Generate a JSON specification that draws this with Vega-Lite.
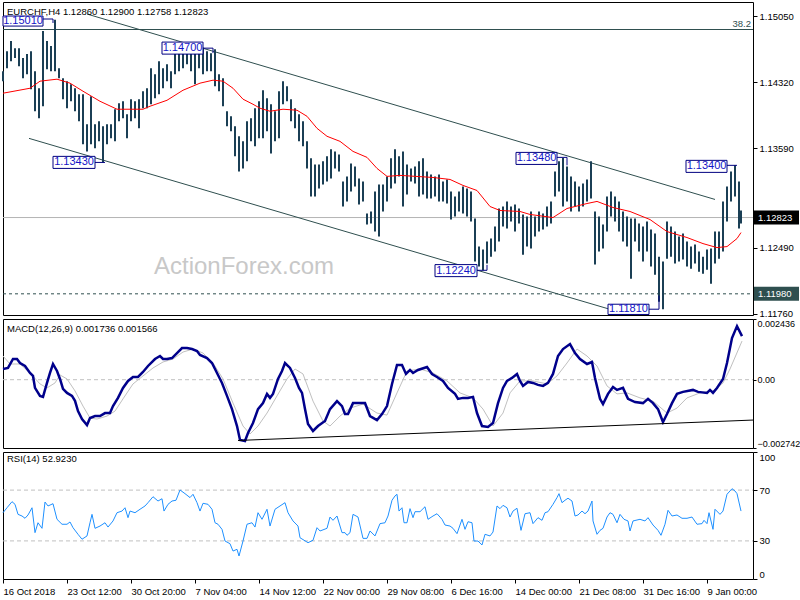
{
  "$schema": "https://vega.github.io/schema/vega-lite/v6.json",
  "padding": {"left": -3, "top": 1, "right": 0, "bottom": 0},
  "background": "white",
  "spacing": 4,
  "bounds": "flush",
  "config": {
    "view": {"stroke": "black", "strokeWidth": 1},
    "axis": {"labelFont": "Liberation Sans", "labelFontSize": 9.5, "labelColor": "black", "tickColor": "black", "domain": false, "grid": false},
    "text": {"font": "Liberation Sans"}
  },
  "datasets": {
    "bars": [
      {"i":0,"lo":1.14330,"hi":1.14441},{"i":2,"lo":1.14474,"hi":1.14662},{"i":4,"lo":1.14551,"hi":1.14773},{"i":6,"lo":1.14585,"hi":1.14695},
      {"i":8,"lo":1.14496,"hi":1.14695},{"i":10,"lo":1.14363,"hi":1.14585},{"i":12,"lo":1.14407,"hi":1.14629},{"i":14,"lo":1.14241,"hi":1.14662},
      {"i":16,"lo":1.13997,"hi":1.14441},{"i":18,"lo":1.13920,"hi":1.14252},{"i":20,"lo":1.14053,"hi":1.14884},{"i":22,"lo":1.14463,"hi":1.14773},
      {"i":24,"lo":1.14441,"hi":1.14718},{"i":26,"lo":1.14441,"hi":1.15010},{"i":28,"lo":1.14363,"hi":1.14474},{"i":30,"lo":1.14130,"hi":1.14363},
      {"i":32,"lo":1.14031,"hi":1.14330},{"i":34,"lo":1.14108,"hi":1.14297},{"i":36,"lo":1.13997,"hi":1.14252},{"i":38,"lo":1.13887,"hi":1.14186},
      {"i":40,"lo":1.13632,"hi":1.14186},{"i":42,"lo":1.13554,"hi":1.13853},{"i":44,"lo":1.13632,"hi":1.14164},{"i":46,"lo":1.13588,"hi":1.13853},
      {"i":48,"lo":1.13665,"hi":1.13887},{"i":50,"lo":1.13430,"hi":1.13831},{"i":52,"lo":1.13632,"hi":1.13853},{"i":54,"lo":1.13698,"hi":1.13853},
      {"i":56,"lo":1.13665,"hi":1.14020},{"i":58,"lo":1.13887,"hi":1.14086},{"i":60,"lo":1.13920,"hi":1.14108},{"i":62,"lo":1.13698,"hi":1.13964},
      {"i":64,"lo":1.13887,"hi":1.14130},{"i":66,"lo":1.13920,"hi":1.14108},{"i":68,"lo":1.13809,"hi":1.14130},{"i":70,"lo":1.14031,"hi":1.14219},
      {"i":72,"lo":1.14031,"hi":1.14252},{"i":74,"lo":1.14075,"hi":1.14474},{"i":76,"lo":1.14141,"hi":1.14407},{"i":78,"lo":1.14186,"hi":1.14551},
      {"i":80,"lo":1.14252,"hi":1.14474},{"i":82,"lo":1.14330,"hi":1.14518},{"i":84,"lo":1.14252,"hi":1.14441},{"i":86,"lo":1.14407,"hi":1.14740},
      {"i":88,"lo":1.14441,"hi":1.14751},{"i":90,"lo":1.14474,"hi":1.14740},{"i":92,"lo":1.14518,"hi":1.14751},{"i":94,"lo":1.14441,"hi":1.14695},
      {"i":96,"lo":1.14297,"hi":1.14740},{"i":98,"lo":1.14474,"hi":1.14751},{"i":100,"lo":1.14407,"hi":1.14700},{"i":102,"lo":1.14441,"hi":1.14662},
      {"i":104,"lo":1.14441,"hi":1.14640},{"i":106,"lo":1.14274,"hi":1.14684},{"i":108,"lo":1.14219,"hi":1.14407},{"i":110,"lo":1.14053,"hi":1.14363},
      {"i":112,"lo":1.13831,"hi":1.13997},{"i":114,"lo":1.13776,"hi":1.13942},{"i":116,"lo":1.13499,"hi":1.13831},{"i":118,"lo":1.13333,"hi":1.13721},
      {"i":120,"lo":1.13366,"hi":1.13665},{"i":122,"lo":1.13444,"hi":1.13887},{"i":124,"lo":1.13665,"hi":1.13920},{"i":126,"lo":1.13610,"hi":1.14031},
      {"i":128,"lo":1.13698,"hi":1.14108},{"i":130,"lo":1.13698,"hi":1.14230},{"i":132,"lo":1.13776,"hi":1.14141},{"i":134,"lo":1.13532,"hi":1.14075},
      {"i":136,"lo":1.13665,"hi":1.13997},{"i":138,"lo":1.13698,"hi":1.14219},{"i":140,"lo":1.14075,"hi":1.14330},{"i":142,"lo":1.14108,"hi":1.14274},
      {"i":144,"lo":1.13887,"hi":1.14130},{"i":146,"lo":1.13809,"hi":1.14031},{"i":148,"lo":1.13665,"hi":1.13964},{"i":150,"lo":1.13610,"hi":1.13887},
      {"i":152,"lo":1.13366,"hi":1.13665},{"i":154,"lo":1.13056,"hi":1.13477},{"i":156,"lo":1.13056,"hi":1.13410},{"i":158,"lo":1.13144,"hi":1.13410},
      {"i":160,"lo":1.13189,"hi":1.13444},{"i":162,"lo":1.13222,"hi":1.13499},{"i":164,"lo":1.13255,"hi":1.13577},{"i":166,"lo":1.13366,"hi":1.13554},
      {"i":168,"lo":1.13333,"hi":1.13521},{"i":170,"lo":1.12945,"hi":1.13222},{"i":172,"lo":1.13000,"hi":1.13277},{"i":174,"lo":1.13111,"hi":1.13421},
      {"i":176,"lo":1.13167,"hi":1.13388},{"i":178,"lo":1.12967,"hi":1.13255},{"i":180,"lo":1.13000,"hi":1.13222},{"i":182,"lo":1.12746,"hi":1.12868},
      {"i":184,"lo":1.12757,"hi":1.12890},{"i":186,"lo":1.12668,"hi":1.13111},{"i":188,"lo":1.12613,"hi":1.13189},{"i":190,"lo":1.12890,"hi":1.13189},
      {"i":192,"lo":1.13000,"hi":1.13277},{"i":194,"lo":1.13144,"hi":1.13477},{"i":196,"lo":1.13200,"hi":1.13577},{"i":198,"lo":1.13277,"hi":1.13499},
      {"i":200,"lo":1.12945,"hi":1.13554},{"i":202,"lo":1.13078,"hi":1.13410},{"i":204,"lo":1.13222,"hi":1.13366},{"i":206,"lo":1.13200,"hi":1.13388},
      {"i":208,"lo":1.13056,"hi":1.13444},{"i":210,"lo":1.13078,"hi":1.13477},{"i":212,"lo":1.13034,"hi":1.13333},{"i":214,"lo":1.13034,"hi":1.13300},
      {"i":216,"lo":1.13056,"hi":1.13277},{"i":218,"lo":1.13000,"hi":1.13300},{"i":220,"lo":1.13000,"hi":1.13222},{"i":222,"lo":1.12978,"hi":1.13244},
      {"i":224,"lo":1.12801,"hi":1.13111},{"i":226,"lo":1.12834,"hi":1.13056},{"i":228,"lo":1.12890,"hi":1.13111},{"i":230,"lo":1.12868,"hi":1.13167},
      {"i":232,"lo":1.12834,"hi":1.13144},{"i":234,"lo":1.12779,"hi":1.13111},{"i":236,"lo":1.12336,"hi":1.12812},{"i":238,"lo":1.12281,"hi":1.12502},
      {"i":240,"lo":1.12240,"hi":1.12469},{"i":242,"lo":1.12314,"hi":1.12557},{"i":244,"lo":1.12391,"hi":1.12591},{"i":246,"lo":1.12447,"hi":1.12724},
      {"i":248,"lo":1.12557,"hi":1.12923},{"i":250,"lo":1.12724,"hi":1.12945},{"i":252,"lo":1.12701,"hi":1.13000},{"i":254,"lo":1.12779,"hi":1.12945},
      {"i":256,"lo":1.12668,"hi":1.12967},{"i":258,"lo":1.12757,"hi":1.12923},{"i":260,"lo":1.12413,"hi":1.12856},{"i":262,"lo":1.12502,"hi":1.12834},
      {"i":264,"lo":1.12480,"hi":1.12890},{"i":266,"lo":1.12613,"hi":1.12834},{"i":268,"lo":1.12668,"hi":1.12890},{"i":270,"lo":1.12690,"hi":1.12868},
      {"i":272,"lo":1.12724,"hi":1.12945},{"i":274,"lo":1.12757,"hi":1.13000},{"i":276,"lo":1.13056,"hi":1.13333},{"i":278,"lo":1.13111,"hi":1.13444},
      {"i":280,"lo":1.12945,"hi":1.13480},{"i":282,"lo":1.13000,"hi":1.13388},{"i":284,"lo":1.12890,"hi":1.13277},{"i":286,"lo":1.12945,"hi":1.13222},
      {"i":288,"lo":1.12890,"hi":1.13167},{"i":290,"lo":1.12945,"hi":1.13200},{"i":292,"lo":1.13000,"hi":1.13244},{"i":294,"lo":1.13034,"hi":1.13444},
      {"i":296,"lo":1.12303,"hi":1.12890},{"i":298,"lo":1.12447,"hi":1.12834},{"i":300,"lo":1.12480,"hi":1.12746},{"i":302,"lo":1.12668,"hi":1.13056},
      {"i":304,"lo":1.12834,"hi":1.13111},{"i":306,"lo":1.12779,"hi":1.13056},{"i":308,"lo":1.12668,"hi":1.13000},{"i":310,"lo":1.12557,"hi":1.12890},
      {"i":312,"lo":1.12502,"hi":1.12834},{"i":314,"lo":1.12147,"hi":1.12812},{"i":316,"lo":1.12557,"hi":1.12812},{"i":318,"lo":1.12447,"hi":1.12757},
      {"i":320,"lo":1.12336,"hi":1.12724},{"i":322,"lo":1.12447,"hi":1.12779},{"i":324,"lo":1.12281,"hi":1.12690},{"i":326,"lo":1.12192,"hi":1.12646},
      {"i":328,"lo":1.11893,"hi":1.12391},{"i":330,"lo":1.11810,"hi":1.12336},{"i":332,"lo":1.12369,"hi":1.12779},{"i":334,"lo":1.12391,"hi":1.12724},
      {"i":336,"lo":1.12314,"hi":1.12668},{"i":338,"lo":1.12336,"hi":1.12613},{"i":340,"lo":1.12358,"hi":1.12646},{"i":342,"lo":1.12281,"hi":1.12557},
      {"i":344,"lo":1.12258,"hi":1.12502},{"i":346,"lo":1.12314,"hi":1.12524},{"i":348,"lo":1.12225,"hi":1.12447},{"i":350,"lo":1.12203,"hi":1.12391},
      {"i":352,"lo":1.12247,"hi":1.12469},{"i":354,"lo":1.12092,"hi":1.12480},{"i":356,"lo":1.12314,"hi":1.12668},{"i":358,"lo":1.12369,"hi":1.12668},
      {"i":360,"lo":1.12447,"hi":1.13000},{"i":362,"lo":1.12779,"hi":1.13167},{"i":364,"lo":1.13000,"hi":1.13333},{"i":366,"lo":1.13056,"hi":1.13400},
      {"i":368,"lo":1.12701,"hi":1.13222},{"i":369,"lo":1.12758,"hi":1.12900}
    ],
    "ma": [
      {"i":0,"ma":1.14197},{"i":13.5,"ma":1.14252},{"i":18.5,"ma":1.1433},{"i":27,"ma":1.14352},{"i":33.5,"ma":1.14308},{"i":40,"ma":1.14219},
      {"i":48.5,"ma":1.14108},{"i":57,"ma":1.1402},{"i":70,"ma":1.1402},{"i":73.5,"ma":1.14053},{"i":82,"ma":1.14119},{"i":90,"ma":1.1423},
      {"i":98.5,"ma":1.14308},{"i":105,"ma":1.14341},{"i":110,"ma":1.1433},{"i":115,"ma":1.14252},{"i":120,"ma":1.14131},{"i":125,"ma":1.14075},
      {"i":128.5,"ma":1.14031},{"i":133.5,"ma":1.13998},{"i":140,"ma":1.1402},{"i":147,"ma":1.14009},{"i":152,"ma":1.13942},{"i":157,"ma":1.13809},
      {"i":162,"ma":1.13721},{"i":168.5,"ma":1.13665},{"i":175,"ma":1.13554},{"i":182,"ma":1.13488},{"i":187,"ma":1.13366},{"i":192,"ma":1.13278},
      {"i":198.5,"ma":1.13289},{"i":215,"ma":1.13266},{"i":223.5,"ma":1.13244},{"i":230,"ma":1.13178},{"i":237,"ma":1.13122},{"i":243.5,"ma":1.12945},
      {"i":248.5,"ma":1.12901},{"i":258.5,"ma":1.1289},{"i":263.5,"ma":1.12857},{"i":275,"ma":1.12823},{"i":282,"ma":1.12923},{"i":292,"ma":1.12978},
      {"i":297,"ma":1.13001},{"i":305,"ma":1.12934},{"i":313.5,"ma":1.1289},{"i":323.5,"ma":1.12801},{"i":332,"ma":1.12668},{"i":342,"ma":1.12602},
      {"i":350,"ma":1.12535},{"i":357,"ma":1.12491},{"i":362,"ma":1.12502},{"i":367,"ma":1.12591},{"i":369,"ma":1.12657}
    ],
    "chan": [
      {"id":"upper","i":42,"p":1.15072},{"id":"upper","i":356,"p":1.13023},
      {"id":"lower","i":13,"p":1.13698},{"id":"lower","i":311,"p":1.1176}
    ],
    "levels": [
      {"name":"fib","i":0,"i2":375,"p":1.14901},
      {"name":"last","i":0,"i2":375,"p":1.12823},
      {"name":"support","i":0,"i2":375,"p":1.1198}
    ],
    "boxes": [
      {"t":"1.15010","i1":0,"i2":20,"p1":1.1505,"p2":1.14939,"ti":10,"tp":1.14994},
      {"t":"1.14700","i1":79.5,"i2":100,"p1":1.14762,"p2":1.14629,"ti":89.75,"tp":1.14695},
      {"t":"1.13430","i1":25,"i2":46,"p1":1.13499,"p2":1.13366,"ti":35.5,"tp":1.13432},
      {"t":"1.13480","i1":256.5,"i2":277,"p1":1.13543,"p2":1.1341,"ti":266.75,"tp":1.13477},
      {"t":"1.13400","i1":341.5,"i2":362,"p1":1.13455,"p2":1.13322,"ti":351.75,"tp":1.13388},
      {"t":"1.12240","i1":216,"i2":237,"p1":1.12303,"p2":1.1217,"ti":226.5,"tp":1.12236},
      {"t":"1.11810","i1":302.5,"i2":323,"p1":1.11865,"p2":1.11752,"ti":312.75,"tp":1.11808}
    ],
    "conn": [
      {"i1":20,"i2":25,"p1":1.15017,"p2":1.15017},{"i1":25,"i2":25,"p1":1.15017,"p2":1.14973},
      {"i1":100,"i2":105,"p1":1.14695,"p2":1.14695},{"i1":105,"i2":105,"p1":1.14695,"p2":1.1464},
      {"i1":46,"i2":51,"p1":1.13432,"p2":1.13432},
      {"i1":277,"i2":282,"p1":1.13488,"p2":1.13488},{"i1":282,"i2":282,"p1":1.13488,"p2":1.134},
      {"i1":362,"i2":367,"p1":1.134,"p2":1.134},
      {"i1":237,"i2":242,"p1":1.1224,"p2":1.1224},{"i1":242,"i2":242,"p1":1.1224,"p2":1.123},
      {"i1":323,"i2":328,"p1":1.1181,"p2":1.1181},{"i1":328,"i2":328,"p1":1.1181,"p2":1.1196}
    ],
    "macd": [
      {"i":0,"m":0.00043},{"i":2.5,"m":0.00047},{"i":5,"m":0.00083},{"i":7,"m":0.00083},{"i":8.5,"m":0.00067},{"i":11,"m":0.00055},
      {"i":13.5,"m":0.00027},{"i":15,"m":0.00015},{"i":16,"m":-0.00033},{"i":18.5,"m":-0.00065},{"i":20,"m":-0.00069},{"i":22,"m":-0.00013},
      {"i":23.5,"m":0.00027},{"i":25,"m":0.00063},{"i":27,"m":0.00035},{"i":28.5,"m":0.00003},{"i":30,"m":-0.00037},{"i":32,"m":-0.00053},
      {"i":34.5,"m":-0.00065},{"i":36,"m":-0.00085},{"i":37.5,"m":-0.00126},{"i":39.5,"m":-0.00158},{"i":42,"m":-0.00182},{"i":43.5,"m":-0.00154},
      {"i":46,"m":-0.00146},{"i":48.5,"m":-0.00146},{"i":51,"m":-0.00134},{"i":53.5,"m":-0.00134},{"i":55,"m":-0.00106},{"i":57.5,"m":-0.00073},
      {"i":60,"m":-0.00033},{"i":62.5,"m":-0.00005},{"i":65,"m":0.00011},{"i":67.5,"m":0.00011},{"i":70,"m":0.00031},{"i":72.5,"m":0.00055},
      {"i":76,"m":0.00083},{"i":78.5,"m":0.00095},{"i":80,"m":0.00083},{"i":82,"m":0.00083},{"i":84.5,"m":0.00087},{"i":87,"m":0.00107},
      {"i":89.5,"m":0.00127},{"i":92,"m":0.00127},{"i":94.5,"m":0.00123},{"i":97,"m":0.00115},{"i":98.5,"m":0.00099},{"i":102,"m":0.00087},
      {"i":104.5,"m":0.00067},{"i":107,"m":0.00027},{"i":109.5,"m":-0.00013},{"i":112,"m":-0.00065},{"i":114.5,"m":-0.00118},{"i":117,"m":-0.00186},
      {"i":118.5,"m":-0.00242},{"i":121,"m":-0.00246},{"i":122.5,"m":-0.00214},{"i":125,"m":-0.00174},{"i":127.5,"m":-0.00118},{"i":130,"m":-0.00094},
      {"i":132,"m":-0.00057},{"i":133.5,"m":-0.00073},{"i":135,"m":-0.00057},{"i":137.5,"m":0.00003},{"i":139.5,"m":0.00035},{"i":141,"m":0.00067},
      {"i":143.5,"m":0.00047},{"i":146,"m":0.00007},{"i":148,"m":-0.00033},{"i":149.5,"m":-0.00053},{"i":151,"m":-0.00118},{"i":152.5,"m":-0.00178},
      {"i":155,"m":-0.00206},{"i":157.5,"m":-0.00186},{"i":161,"m":-0.00166},{"i":163.5,"m":-0.00118},{"i":167,"m":-0.00086},{"i":169.5,"m":-0.00106},
      {"i":171,"m":-0.00138},{"i":172.5,"m":-0.00138},{"i":175,"m":-0.00094},{"i":178.5,"m":-0.00094},{"i":181,"m":-0.00094},{"i":183.5,"m":-0.00146},
      {"i":187,"m":-0.00162},{"i":189.5,"m":-0.00138},{"i":192,"m":-0.00106},{"i":194.5,"m":-0.00017},{"i":197,"m":0.00059},{"i":199.5,"m":0.00059},
      {"i":201.5,"m":0.00023},{"i":203.5,"m":0.00039},{"i":205,"m":0.00027},{"i":207.5,"m":0.00039},{"i":212,"m":0.00051},{"i":214.5,"m":0.00023},
      {"i":217,"m":0.00011},{"i":220,"m":-0.00005},{"i":222.5,"m":-0.00033},{"i":226,"m":-0.00057},{"i":227.5,"m":-0.00077},{"i":230,"m":-0.00073},
      {"i":232.5,"m":-0.00073},{"i":235,"m":-0.00069},{"i":237,"m":-0.00134},{"i":239.5,"m":-0.00186},{"i":242.5,"m":-0.0019},{"i":245,"m":-0.00174},
      {"i":247.5,"m":-0.00094},{"i":250,"m":-0.00033},{"i":252,"m":-0.00005},{"i":254.5,"m":0.00007},{"i":257,"m":0.00023},{"i":258.5,"m":-0.00005},
      {"i":260,"m":-0.00025},{"i":262.5,"m":-0.00009},{"i":265,"m":-0.00013},{"i":267.5,"m":-0.00021},{"i":270,"m":-0.00025},{"i":272.5,"m":-0.00013},
      {"i":275,"m":0.00023},{"i":277.5,"m":0.00095},{"i":280,"m":0.00123},{"i":283.5,"m":0.00143},{"i":286,"m":0.00107},{"i":288.5,"m":0.00083},
      {"i":292,"m":0.00063},{"i":294.5,"m":0.00071},{"i":296,"m":0.00007},{"i":298.5,"m":-0.00077},{"i":300,"m":-0.00098},{"i":302.5,"m":-0.00057},
      {"i":305,"m":-0.00029},{"i":307,"m":-0.00041},{"i":310,"m":-0.00033},{"i":312.5,"m":-0.00077},{"i":316,"m":-0.0009},{"i":320,"m":-0.00094},
      {"i":322.5,"m":-0.00077},{"i":325,"m":-0.00094},{"i":327.5,"m":-0.00118},{"i":330,"m":-0.0017},{"i":332,"m":-0.00138},{"i":334.5,"m":-0.00094},
      {"i":337,"m":-0.00057},{"i":340,"m":-0.00049},{"i":345,"m":-0.00041},{"i":347.5,"m":-0.00049},{"i":352,"m":-0.00053},{"i":353.5,"m":-0.00041},
      {"i":355,"m":-0.00053},{"i":357,"m":-0.00033},{"i":360,"m":0.00003},{"i":362,"m":0.00067},{"i":364.5,"m":0.00167},{"i":367,"m":0.00215},
      {"i":369.5,"m":0.00175}
    ],
    "sig": [
      {"i":0,"s":0.00095},{"i":3.5,"s":0.00063},{"i":8.5,"s":0.00063},{"i":13.5,"s":0.00027},{"i":18.5,"s":-0.00017},{"i":22,"s":-0.00033},
      {"i":26,"s":-0.00013},{"i":28.5,"s":0.00019},{"i":32,"s":0.00003},{"i":36,"s":-0.00045},{"i":40,"s":-0.00106},{"i":43.5,"s":-0.00154},
      {"i":47,"s":-0.00158},{"i":52,"s":-0.00146},{"i":56,"s":-0.00126},{"i":60,"s":-0.00077},{"i":65,"s":-0.00017},{"i":70,"s":0.00015},
      {"i":75,"s":0.00047},{"i":80,"s":0.00071},{"i":85,"s":0.00083},{"i":90,"s":0.00111},{"i":95,"s":0.00123},{"i":100,"s":0.00107},
      {"i":105,"s":0.00067},{"i":110,"s":0.00003},{"i":115,"s":-0.00094},{"i":120,"s":-0.00186},{"i":123.5,"s":-0.00218},{"i":127.5,"s":-0.00186},
      {"i":132,"s":-0.00134},{"i":137,"s":-0.00065},{"i":142,"s":0.00003},{"i":146,"s":0.00043},{"i":150,"s":0.00023},{"i":155,"s":-0.00086},
      {"i":160,"s":-0.00166},{"i":163.5,"s":-0.00186},{"i":168.5,"s":-0.00146},{"i":173.5,"s":-0.00114},{"i":180,"s":-0.00098},{"i":187,"s":-0.00134},
      {"i":192,"s":-0.00142},{"i":197,"s":-0.00053},{"i":202,"s":0.00035},{"i":208.5,"s":0.00043},{"i":215,"s":0.00027},{"i":222,"s":-0.00005},
      {"i":228.5,"s":-0.00053},{"i":235,"s":-0.00073},{"i":240,"s":-0.00118},{"i":245,"s":-0.00186},{"i":250,"s":-0.00134},{"i":253.5,"s":-0.00053},
      {"i":258.5,"s":-0.00005},{"i":265,"s":-0.00005},{"i":272,"s":-0.00017},{"i":277,"s":0.00015},{"i":282,"s":0.00067},{"i":287,"s":0.00123},
      {"i":292,"s":0.00095},{"i":297,"s":0.00055},{"i":302,"s":-0.00025},{"i":307,"s":-0.00057},{"i":312,"s":-0.00053},{"i":318.5,"s":-0.00073},
      {"i":325,"s":-0.00086},{"i":332,"s":-0.00134},{"i":337,"s":-0.00114},{"i":342,"s":-0.00073},{"i":348.5,"s":-0.00053},{"i":355,"s":-0.00045},
      {"i":360,"s":-0.00013},{"i":363.5,"s":0.00043},{"i":369.5,"s":0.00155}
    ],
    "trend": [{"i":117.5,"m":-0.00244},{"i":375,"m":-0.00162}],
    "rsi": [
      {"i":0,"r":52.2},{"i":2,"r":56.1},{"i":4.5,"r":60.9},{"i":6,"r":58.8},{"i":7.5,"r":50.9},{"i":9.5,"r":49.6},{"i":11,"r":47.8},
      {"i":12.5,"r":50.4},{"i":14.5,"r":56.1},{"i":16,"r":36.5},{"i":17.5,"r":44.3},{"i":19.5,"r":39.9},{"i":21,"r":60.6},{"i":22.5,"r":57.5},
      {"i":25,"r":59.3},{"i":27,"r":47},{"i":29.5,"r":43.1},{"i":32,"r":43.1},{"i":33.5,"r":44.9},{"i":35,"r":40.4},{"i":37.5,"r":35.2},
      {"i":39.5,"r":31.3},{"i":42,"r":33.9},{"i":43.5,"r":44.3},{"i":44.5,"r":50.9},{"i":46,"r":39.9},{"i":48.5,"r":41.7},{"i":51,"r":44.3},
      {"i":52.5,"r":40.9},{"i":55,"r":45.7},{"i":57,"r":52.2},{"i":59.5,"r":53.5},{"i":61,"r":56.1},{"i":62.5,"r":48.3},{"i":63.5,"r":53.5},
      {"i":66,"r":52.2},{"i":68.5,"r":54.9},{"i":71,"r":57.5},{"i":72.5,"r":60.1},{"i":75,"r":64.8},{"i":77.5,"r":61.4},{"i":79.5,"r":63.2},
      {"i":80.5,"r":53.5},{"i":82.5,"r":58.8},{"i":84.5,"r":61.4},{"i":86.5,"r":62},{"i":88.5,"r":70.1},{"i":91,"r":67.2},{"i":93.5,"r":64.1},
      {"i":95,"r":66.7},{"i":97,"r":60.1},{"i":98.5,"r":53.5},{"i":100,"r":59.6},{"i":102.5,"r":58.8},{"i":104.5,"r":54.9},{"i":106,"r":44.3},
      {"i":107.5,"r":43.1},{"i":109.5,"r":39.1},{"i":111,"r":29.9},{"i":113.5,"r":27.8},{"i":115,"r":22},{"i":117,"r":23.4},{"i":118,"r":18.1},
      {"i":120,"r":29.9},{"i":122,"r":43.1},{"i":124.5,"r":44.3},{"i":126,"r":40.9},{"i":127.5,"r":52.2},{"i":129.5,"r":47},{"i":132,"r":54.9},
      {"i":133.5,"r":41.7},{"i":136,"r":54.9},{"i":138.5,"r":57.5},{"i":141,"r":60.1},{"i":142.5,"r":52.2},{"i":145,"r":45.7},{"i":147.5,"r":41.7},
      {"i":148.5,"r":32.5},{"i":152.5,"r":28.6},{"i":155,"r":30.5},{"i":157,"r":40.4},{"i":158.5,"r":37.8},{"i":162,"r":39.9},{"i":163.5,"r":48.8},
      {"i":165,"r":46.2},{"i":167,"r":49.6},{"i":169.5,"r":36.5},{"i":171,"r":36.5},{"i":172,"r":34.4},{"i":173.5,"r":36.5},{"i":175,"r":50.9},
      {"i":177.5,"r":48.8},{"i":180,"r":32},{"i":182,"r":32},{"i":183.5,"r":37.8},{"i":186,"r":33.9},{"i":188.5,"r":43.6},{"i":191,"r":44.3},
      {"i":192.5,"r":49.6},{"i":194.5,"r":62},{"i":196,"r":65.4},{"i":197,"r":66.7},{"i":198,"r":53.5},{"i":199.5,"r":56.1},{"i":200.5,"r":44.3},
      {"i":202,"r":44.3},{"i":203.5,"r":55.4},{"i":205,"r":48.3},{"i":206,"r":53},{"i":208.5,"r":53},{"i":211,"r":56.9},{"i":212.5,"r":47},
      {"i":215,"r":49.6},{"i":217,"r":51.4},{"i":219.5,"r":47},{"i":221,"r":42.5},{"i":223.5,"r":41.7},{"i":225,"r":39.9},{"i":227,"r":35.7},
      {"i":229.5,"r":47},{"i":231,"r":39.1},{"i":232.5,"r":45.1},{"i":234.5,"r":44.3},{"i":235.5,"r":29.9},{"i":237.5,"r":29.9},{"i":239.5,"r":26.8},
      {"i":241,"r":35.2},{"i":243.5,"r":33.9},{"i":245,"r":37},{"i":247,"r":57.5},{"i":248.5,"r":55.4},{"i":250,"r":58},{"i":252,"r":56.1},
      {"i":253.5,"r":48.8},{"i":255,"r":53.5},{"i":257,"r":55.7},{"i":259,"r":38.3},{"i":261,"r":51.4},{"i":263.5,"r":52.2},{"i":265,"r":43.6},
      {"i":267.5,"r":48.3},{"i":269.5,"r":46.2},{"i":271,"r":52.2},{"i":272.5,"r":53},{"i":275,"r":58.8},{"i":277,"r":64.1},{"i":278,"r":67.2},
      {"i":279.5,"r":60.1},{"i":281,"r":62},{"i":282.5,"r":63.6},{"i":284.5,"r":61.4},{"i":286,"r":49.6},{"i":287.5,"r":50.4},{"i":289.5,"r":53.5},
      {"i":291,"r":51.4},{"i":292.5,"r":53.5},{"i":294.5,"r":61.4},{"i":295,"r":45.7},{"i":297,"r":35.2},{"i":298.5,"r":38.3},{"i":300,"r":39.9},
      {"i":302,"r":48.8},{"i":303.5,"r":52.2},{"i":305,"r":50.9},{"i":307,"r":44.3},{"i":308.5,"r":50.9},{"i":310.5,"r":47},{"i":312.5,"r":45.7},
      {"i":313.5,"r":37.8},{"i":315,"r":45.7},{"i":318.5,"r":47},{"i":321,"r":45.7},{"i":322.5,"r":48.3},{"i":325,"r":42.5},{"i":327.5,"r":38.3},
      {"i":329,"r":34.4},{"i":331,"r":43.1},{"i":332.5,"r":54.1},{"i":334.5,"r":49.6},{"i":337,"r":50.4},{"i":339.5,"r":47.8},{"i":342,"r":47.8},
      {"i":344.5,"r":48.8},{"i":347,"r":43.1},{"i":349.5,"r":43.6},{"i":350.5,"r":46.2},{"i":352,"r":43.6},{"i":353,"r":52.2},{"i":355,"r":39.1},
      {"i":356,"r":54.9},{"i":358.5,"r":50.9},{"i":360,"r":53.5},{"i":362,"r":66.7},{"i":364.5,"r":71.1},{"i":366,"r":69.3},{"i":367,"r":67.2},
      {"i":369,"r":53.5}
    ]
  },
  "vconcat": [
    {
      "width": 750,
      "height": 313,
      "layer": [
        {
          "data": {"name": "levels"},
          "transform": [{"filter": "datum.name == 'fib'"}],
          "mark": {"type": "rule", "color": "#2f4f4f", "strokeWidth": 1},
          "encoding": {
            "x": {"field": "i", "type": "quantitative", "scale": {"domain": [0, 375], "nice": false, "zero": false}, "axis": null},
            "x2": {"field": "i2"},
            "y": {"field": "p", "type": "quantitative", "scale": {"domain": [1.11746, 1.15205], "nice": false, "zero": false},
              "axis": {"orient": "right", "values": [1.1505, 1.1469, 1.1432, 1.1395, 1.1359, 1.1322, 1.1249, 1.1212, 1.1176], "format": ".5f", "tickSize": 4, "labelPadding": 2, "title": null}}
          }
        },
        {
          "data": {"name": "levels"},
          "transform": [{"filter": "datum.name == 'last'"}],
          "mark": {"type": "rule", "color": "#b4b4b4", "strokeWidth": 1},
          "encoding": {
            "x": {"field": "i", "type": "quantitative", "axis": null},
            "x2": {"field": "i2"},
            "y": {"field": "p", "type": "quantitative"}
          }
        },
        {
          "data": {"name": "levels"},
          "transform": [{"filter": "datum.name == 'support'"}],
          "mark": {"type": "rule", "color": "#2f4f4f", "strokeWidth": 1, "strokeDash": [3, 3]},
          "encoding": {
            "x": {"field": "i", "type": "quantitative", "axis": null},
            "x2": {"field": "i2"},
            "y": {"field": "p", "type": "quantitative"}
          }
        },
        {
          "data": {"values": [{"t": "ActionForex.com", "i": 120.5, "p": 1.12281}]},
          "mark": {"type": "text", "fontSize": 24, "color": "#c8c8c8", "align": "center", "baseline": "middle", "font": "Liberation Sans"},
          "encoding": {
            "x": {"field": "i", "type": "quantitative", "axis": null},
            "y": {"field": "p", "type": "quantitative"},
            "text": {"field": "t"}
          }
        },
        {
          "data": {"name": "chan"},
          "mark": {"type": "line", "color": "#2f4f4f", "strokeWidth": 1},
          "encoding": {
            "x": {"field": "i", "type": "quantitative", "axis": null},
            "y": {"field": "p", "type": "quantitative"},
            "detail": {"field": "id"}
          }
        },
        {
          "data": {"name": "bars"},
          "mark": {"type": "rule", "color": "#1b3f55", "strokeWidth": 2},
          "encoding": {
            "x": {"field": "i", "type": "quantitative", "axis": null},
            "y": {"field": "lo", "type": "quantitative"},
            "y2": {"field": "hi"}
          }
        },
        {
          "data": {"name": "ma"},
          "mark": {"type": "line", "color": "#ff0000", "strokeWidth": 1},
          "encoding": {
            "x": {"field": "i", "type": "quantitative", "axis": null},
            "y": {"field": "ma", "type": "quantitative"}
          }
        },
        {
          "data": {"name": "conn"},
          "mark": {"type": "rule", "color": "#000080", "strokeWidth": 1},
          "encoding": {
            "x": {"field": "i1", "type": "quantitative", "axis": null},
            "x2": {"field": "i2"},
            "y": {"field": "p1", "type": "quantitative"},
            "y2": {"field": "p2"}
          }
        },
        {
          "data": {"name": "boxes"},
          "mark": {"type": "rect", "fill": "white", "stroke": "#000080", "strokeWidth": 1},
          "encoding": {
            "x": {"field": "i1", "type": "quantitative", "axis": null},
            "x2": {"field": "i2"},
            "y": {"field": "p1", "type": "quantitative"},
            "y2": {"field": "p2"}
          }
        },
        {
          "data": {"name": "boxes"},
          "mark": {"type": "text", "fontSize": 11, "color": "#1414c8", "align": "center", "baseline": "middle"},
          "encoding": {
            "x": {"field": "ti", "type": "quantitative", "axis": null},
            "y": {"field": "tp", "type": "quantitative"},
            "text": {"field": "t"}
          }
        },
        {
          "data": {"values": [{"t": "EURCHF,H4  1.12860 1.12900 1.12758 1.12823", "i": 2, "p": 1.15094}]},
          "mark": {"type": "text", "fontSize": 9.5, "color": "black", "align": "left", "baseline": "middle"},
          "encoding": {
            "x": {"field": "i", "type": "quantitative", "axis": null},
            "y": {"field": "p", "type": "quantitative"},
            "text": {"field": "t"}
          }
        },
        {
          "data": {"values": [{"t": "38.2", "i": 374, "p": 1.14965}]},
          "mark": {"type": "text", "fontSize": 9.5, "color": "#2f4f4f", "align": "right", "baseline": "middle"},
          "encoding": {
            "x": {"field": "i", "type": "quantitative", "axis": null},
            "y": {"field": "p", "type": "quantitative"},
            "text": {"field": "t"}
          }
        },
        {
          "data": {"values": [{"t": "1.12823", "i1": 375.5, "i2": 398, "p1": 1.12901, "p2": 1.12746, "ti": 377.5, "tp": 1.12823}]},
          "mark": {"type": "rect", "fill": "black"},
          "encoding": {"x": {"field": "i1", "type": "quantitative", "axis": null}, "x2": {"field": "i2"}, "y": {"field": "p1", "type": "quantitative"}, "y2": {"field": "p2"}}
        },
        {
          "data": {"values": [{"t": "1.12823", "i1": 375.5, "i2": 398, "p1": 1.12901, "p2": 1.12746, "ti": 377.5, "tp": 1.12823}]},
          "mark": {"type": "text", "fontSize": 9.5, "color": "white", "align": "left", "baseline": "middle"},
          "encoding": {"x": {"field": "ti", "type": "quantitative", "axis": null}, "y": {"field": "tp", "type": "quantitative"}, "text": {"field": "t"}}
        },
        {
          "data": {"values": [{"t": "1.11980", "i1": 375.5, "i2": 398, "p1": 1.12059, "p2": 1.11903, "ti": 377.5, "tp": 1.1198}]},
          "mark": {"type": "rect", "fill": "#2f4f4f"},
          "encoding": {"x": {"field": "i1", "type": "quantitative", "axis": null}, "x2": {"field": "i2"}, "y": {"field": "p1", "type": "quantitative"}, "y2": {"field": "p2"}}
        },
        {
          "data": {"values": [{"t": "1.11980", "i1": 375.5, "i2": 398, "p1": 1.12059, "p2": 1.11903, "ti": 377.5, "tp": 1.1198}]},
          "mark": {"type": "text", "fontSize": 9.5, "color": "white", "align": "left", "baseline": "middle"},
          "encoding": {"x": {"field": "ti", "type": "quantitative", "axis": null}, "y": {"field": "tp", "type": "quantitative"}, "text": {"field": "t"}}
        }
      ]
    },
    {
      "width": 750,
      "height": 129,
      "layer": [
        {
          "data": {"values": [{"i": 0, "i2": 375, "m": 0}]},
          "mark": {"type": "rule", "color": "#c0c0c0", "strokeDash": [4, 3], "strokeWidth": 1},
          "encoding": {
            "x": {"field": "i", "type": "quantitative", "scale": {"domain": [0, 375], "nice": false, "zero": false}, "axis": null},
            "x2": {"field": "i2"},
            "y": {"field": "m", "type": "quantitative", "scale": {"domain": [-0.002742, 0.002436], "nice": false, "zero": false},
              "axis": {"orient": "right", "values": [-0.002742, 0, 0.002436], "labelExpr": "datum.value == 0 ? '0.00' : format(datum.value, '.6f')", "labelFlush": true, "labelFontSize": 9, "tickSize": 3, "labelPadding": 1, "title": null}}
          }
        },
        {
          "data": {"name": "sig"},
          "mark": {"type": "line", "color": "#c0c0c0", "strokeWidth": 1},
          "encoding": {
            "x": {"field": "i", "type": "quantitative", "axis": null},
            "y": {"field": "s", "type": "quantitative"}
          }
        },
        {
          "data": {"name": "macd"},
          "mark": {"type": "line", "color": "#00008b", "strokeWidth": 2.5},
          "encoding": {
            "x": {"field": "i", "type": "quantitative", "axis": null},
            "y": {"field": "m", "type": "quantitative"}
          }
        },
        {
          "data": {"name": "trend"},
          "mark": {"type": "line", "color": "black", "strokeWidth": 1},
          "encoding": {
            "x": {"field": "i", "type": "quantitative", "axis": null},
            "y": {"field": "m", "type": "quantitative"}
          }
        },
        {
          "data": {"values": [{"t": "MACD(12,26,9) 0.001736 0.001566", "i": 2, "m": 0.00205}]},
          "mark": {"type": "text", "fontSize": 9.5, "color": "black", "align": "left", "baseline": "middle"},
          "encoding": {
            "x": {"field": "i", "type": "quantitative", "axis": null},
            "y": {"field": "m", "type": "quantitative"},
            "text": {"field": "t"}
          }
        }
      ]
    },
    {
      "width": 750,
      "height": 127,
      "layer": [
        {
          "data": {"values": [{"i": 0, "i2": 375, "r": 70}, {"i": 0, "i2": 375, "r": 30}]},
          "mark": {"type": "rule", "color": "#c0c0c0", "strokeDash": [4, 3], "strokeWidth": 1},
          "encoding": {
            "x": {"field": "i", "type": "quantitative", "scale": {"domain": [0, 375], "nice": false, "zero": false},
              "axis": {"orient": "bottom", "values": [0, 32, 64, 96, 128, 160, 192, 224, 256, 288, 320, 352],
                "labelExpr": "['16 Oct 2018','23 Oct 12:00','30 Oct 20:00','7 Nov 04:00','14 Nov 12:00','22 Nov 00:00','29 Nov 08:00','6 Dec 16:00','14 Dec 00:00','21 Dec 08:00','31 Dec 16:00','9 Jan 00:00'][round(datum.value / 32)]",
                "labelAlign": "left", "labelPadding": 3, "tickSize": 4, "labelFlush": false, "labelOverlap": false, "title": null}},
            "x2": {"field": "i2"},
            "y": {"field": "r", "type": "quantitative", "scale": {"domain": [0, 100], "nice": false, "zero": false},
              "axis": {"orient": "right", "values": [0, 30, 70, 100], "labelFlush": true, "tickSize": 4, "labelPadding": 2, "title": null}}
          }
        },
        {
          "data": {"name": "rsi"},
          "mark": {"type": "line", "color": "#1e90ff", "strokeWidth": 1},
          "encoding": {
            "x": {"field": "i", "type": "quantitative"},
            "y": {"field": "r", "type": "quantitative"}
          }
        },
        {
          "data": {"values": [{"t": "RSI(14) 52.9230", "i": 2, "r": 94.5}]},
          "mark": {"type": "text", "fontSize": 9.5, "color": "black", "align": "left", "baseline": "middle"},
          "encoding": {
            "x": {"field": "i", "type": "quantitative"},
            "y": {"field": "r", "type": "quantitative"},
            "text": {"field": "t"}
          }
        }
      ]
    }
  ]
}
